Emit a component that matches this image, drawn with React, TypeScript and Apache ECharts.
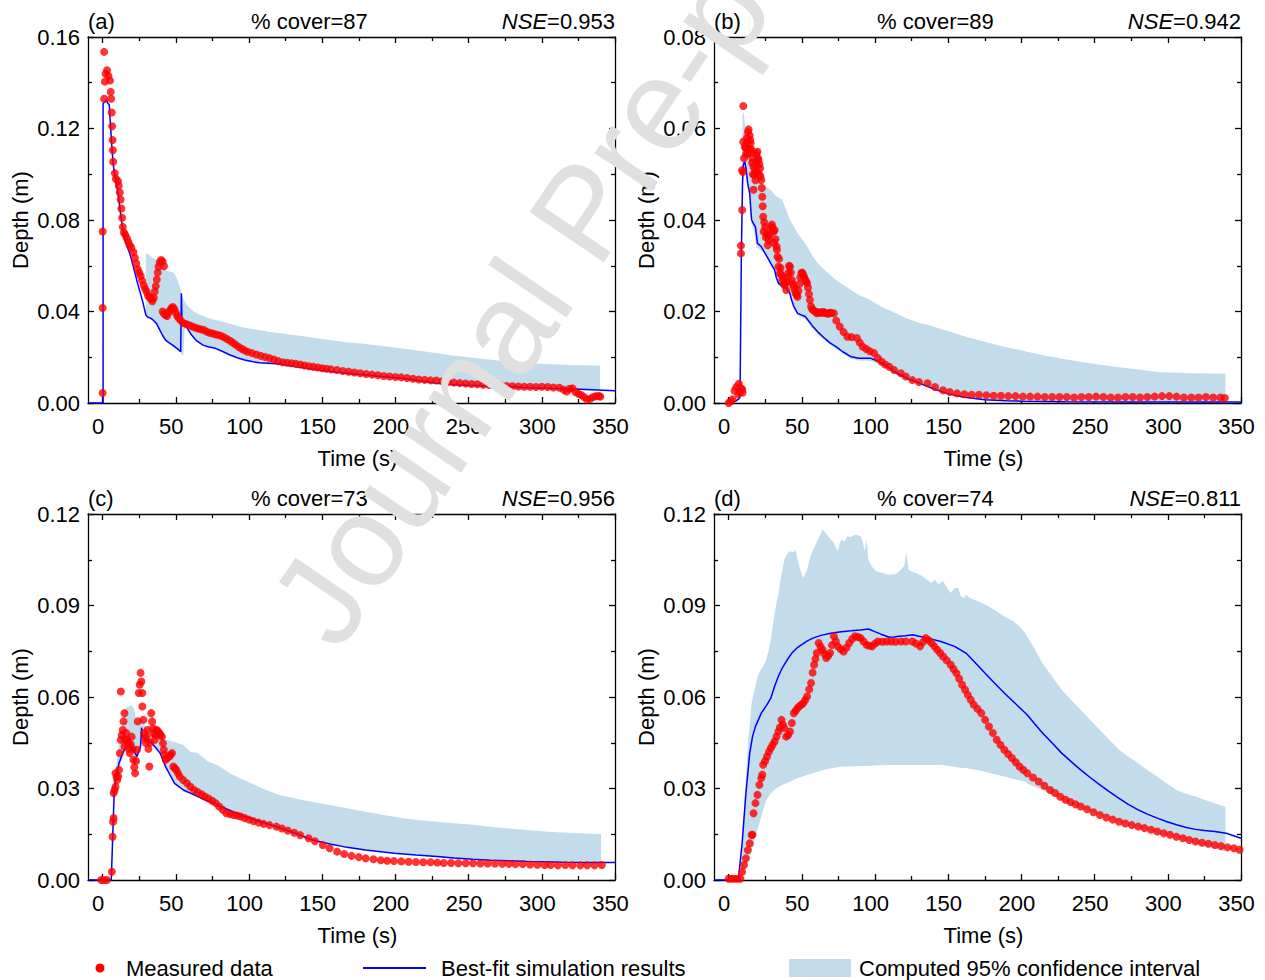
import React, { useEffect, useRef } from 'react';
import * as echarts from 'echarts';

const FONT = '"Liberation Sans", Arial, Helvetica, sans-serif';
const BAND_COLOR = '#c3dcec';
const LINE_COLOR = '#0000ff';
const DOT_COLOR = '#ff0000';

// ---------- Panel labels ----------
const panelLabels = ['(a)', '(b)', '(c)', '(d)'];
const coverTexts = ['% cover=87', '% cover=89', '% cover=73', '% cover=74'];
const nseValues = ['0.953', '0.942', '0.956', '0.811'];
const yMaxes = [0.16, 0.08, 0.12, 0.12];
const yIntervals = [0.04, 0.02, 0.03, 0.03];
const xTickValues = [0, 50, 100, 150, 200, 250, 300, 350];

// ---------- Panel (a) ----------
const measuredA: [number, number][] = [
  [0, 0.0044], [0, 0.0415], [0, 0.075], [1, 0.133], [1, 0.1535], [1.5, 0.1405], [2, 0.144], [3, 0.1455], [4, 0.143], [5, 0.141],
  [5.5, 0.136], [5.8, 0.133], [6.2, 0.127], [6.5, 0.121], [6.8, 0.115], [7, 0.1105], [7.2, 0.1055], [8.3, 0.1005], [9, 0.098], [10.5, 0.097],
  [11, 0.095], [11.7, 0.092], [12.3, 0.089], [12.8, 0.085], [13.3, 0.081], [13.8, 0.077], [14.5, 0.0745], [15.5, 0.0735], [16.5, 0.072], [17.5, 0.0705],
  [18.5, 0.069], [19.5, 0.068], [21, 0.066], [22, 0.0635], [23, 0.061], [24, 0.0585], [25, 0.057], [26, 0.0555], [27, 0.0535], [28, 0.0515],
  [29, 0.05], [30, 0.0487], [31, 0.047], [32, 0.0462], [33, 0.0455], [34, 0.0445], [35, 0.046], [35.6, 0.0487], [36.3, 0.051], [37, 0.054],
  [37.6, 0.057], [38.2, 0.0596], [39, 0.0615], [40, 0.0625], [41, 0.0618], [42, 0.0598], [41, 0.04], [42, 0.039], [43, 0.0385], [44, 0.038],
  [45, 0.0395], [46, 0.0405], [47, 0.0415], [48, 0.042], [49, 0.041], [50, 0.0395], [51, 0.038], [52, 0.037], [53.5, 0.036], [55, 0.035],
  [57, 0.0345], [59, 0.034], [61, 0.0335], [63, 0.033], [65, 0.0326], [67, 0.0322], [69, 0.032], [71, 0.0312], [73, 0.0307], [75, 0.0304],
  [77, 0.03], [79, 0.0297], [81, 0.0293], [83, 0.0287], [85, 0.028], [87, 0.0272], [89, 0.0263], [91, 0.0254], [93, 0.0245], [95, 0.0237],
  [97, 0.023], [99, 0.0224], [102, 0.0218], [105, 0.0212], [108, 0.0206], [111, 0.0201], [114, 0.0196], [117, 0.019], [120, 0.0183], [123, 0.0178],
  [126, 0.0176], [129, 0.0174], [132, 0.0171], [135, 0.0168], [138, 0.0164], [141, 0.0161], [144, 0.0158], [147, 0.0155], [150, 0.0152], [153, 0.015],
  [156, 0.0147], [160, 0.0144], [164, 0.014], [168, 0.0137], [172, 0.0133], [176, 0.013], [180, 0.0127], [184, 0.0124], [188, 0.0121], [192, 0.0118],
  [196, 0.0116], [200, 0.0114], [204, 0.0112], [208, 0.0109], [212, 0.0106], [216, 0.0103], [220, 0.0101], [224, 0.0099], [228, 0.0098], [232, 0.0095],
  [236, 0.0092], [240, 0.0089], [244, 0.0087], [248, 0.0085], [252, 0.0083], [256, 0.0082], [260, 0.008], [264, 0.0079], [268, 0.0078], [272, 0.0076],
  [276, 0.0074], [280, 0.0073], [284, 0.0072], [288, 0.0071], [292, 0.0071], [296, 0.007], [300, 0.0071], [304, 0.007], [308, 0.0068], [312, 0.0067],
  [315, 0.0058], [317, 0.005], [319, 0.0062], [321, 0.0064], [323, 0.0048], [325, 0.004], [327, 0.0035], [329, 0.0025], [331, 0.0015], [333, 0.0018],
  [335, 0.0026], [337, 0.003], [339, 0.003], [340, 0.0028],
];
const simA: [number, number][] = [
  [-10, 0], [0.3, 0], [0.3, 0.131], [1.5, 0.1315], [2.5, 0.1325], [3.5, 0.131], [4.5, 0.1305], [5, 0.125], [5.8, 0.117], [6.5, 0.11],
  [7.5, 0.103], [9, 0.097], [10.5, 0.092], [12, 0.084], [13.5, 0.077], [15, 0.072], [17, 0.068], [18.5, 0.0654], [20, 0.062], [22, 0.057],
  [24, 0.052], [26, 0.0475], [27.5, 0.044], [29.5, 0.0385], [31, 0.0375], [33, 0.037], [35, 0.036], [37, 0.0345], [39, 0.032], [41, 0.0295],
  [43, 0.0275], [45, 0.0265], [47.8, 0.0253], [50, 0.0242], [52, 0.0232], [53.3, 0.0224], [53.8, 0.048], [54.2, 0.036], [55.2, 0.0355], [57, 0.0335],
  [60, 0.0304], [63, 0.028], [65, 0.0268], [68.6, 0.0253], [72, 0.0246], [77, 0.0239], [82, 0.0225], [87, 0.021], [92, 0.0198], [97, 0.0188],
  [102, 0.0181], [107, 0.0176], [113, 0.0174], [119, 0.0172], [125, 0.0166], [131, 0.0159], [140, 0.0152], [150, 0.0142], [160, 0.0134], [170, 0.0128],
  [180, 0.0122], [190, 0.0116], [204, 0.0108], [215, 0.0098], [228, 0.0086], [240, 0.008], [253, 0.0076], [265, 0.0073], [277, 0.0071], [290, 0.0067],
  [302, 0.0064], [314, 0.0062], [326, 0.006], [338, 0.0057], [350, 0.0054],
];
// [time, lower, upper]
const bandA: [number, number, number][] = [
  [29.5, 0.0385, 0.0655], [31, 0.0375, 0.0652], [33, 0.0368, 0.064], [35, 0.0358, 0.0632], [37, 0.0343, 0.0625], [39, 0.0318, 0.061],
  [41, 0.0293, 0.0595], [43, 0.0273, 0.058], [45, 0.0262, 0.0576], [47, 0.0252, 0.0574], [49, 0.0243, 0.0567], [51, 0.0235, 0.054],
  [52.7, 0.0226, 0.0508], [53.3, 0.022, 0.049], [54, 0.021, 0.0475], [55.2, 0.021, 0.0457], [56, 0.0325, 0.0445], [57.6, 0.0332, 0.0428],
  [60, 0.0302, 0.0412], [62.5, 0.0282, 0.0399], [65, 0.0266, 0.039], [69.8, 0.0251, 0.0377], [75, 0.0241, 0.0366], [82, 0.0223, 0.0355],
  [88, 0.0207, 0.0344], [94.3, 0.0192, 0.0333], [100, 0.0183, 0.0326], [106.5, 0.0175, 0.0319], [115, 0.0172, 0.031], [123, 0.0167, 0.0304],
  [131, 0.0158, 0.0297], [143, 0.0147, 0.0286], [155, 0.0137, 0.0275], [167, 0.013, 0.0266], [180, 0.0121, 0.0258], [192, 0.0115, 0.0248],
  [204, 0.0107, 0.0239], [216, 0.0097, 0.0228], [228.6, 0.0085, 0.0217], [240, 0.0079, 0.0207], [253, 0.0075, 0.0198], [265, 0.0072, 0.0189],
  [277.5, 0.007, 0.0181], [290, 0.0066, 0.0175], [302, 0.0063, 0.017], [314, 0.0061, 0.0167], [326, 0.0059, 0.0165], [339.7, 0.0056, 0.0164],
];

// ---------- Panel (b) ----------
const measuredB: [number, number][] = [
  [0, 0], [1.5, 0.0004], [2.7, 0.0008], [4, 0.0027], [5.3, 0.0035], [6.6, 0.0019], [7, 0.0042], [7.9, 0.0024], [8.5, 0.0032], [9.2, 0.003],
  [9.5, 0.0023], [8.4, 0.0327], [8.4, 0.0344], [9.2, 0.0422], [9.2, 0.0509], [9.7, 0.0505], [10, 0.0571], [10, 0.0649], [10.5, 0.0535], [11, 0.056],
  [11.8, 0.0557], [12, 0.0545], [12.5, 0.058], [12.8, 0.057], [13, 0.0545], [13.2, 0.0592], [13.6, 0.0598], [14, 0.0555], [14.4, 0.0585], [14.8, 0.0575],
  [15, 0.0568], [15.3, 0.0555], [15.7, 0.0549], [16, 0.0525], [16.3, 0.0535], [16.6, 0.05], [17, 0.0517], [17, 0.0466], [17.6, 0.0498], [18, 0.051],
  [18.3, 0.0487], [18.8, 0.0545], [19, 0.0525], [19.4, 0.0505], [19.7, 0.0549], [20, 0.0535], [20.4, 0.0531], [20.8, 0.05], [21, 0.0522], [21.5, 0.0513],
  [21.8, 0.0495], [22.3, 0.0487], [22.7, 0.047], [23, 0.0451], [23.3, 0.043], [23.6, 0.0407], [24, 0.0375], [24.3, 0.0395], [24.9, 0.0385], [25.5, 0.0362],
  [26, 0.037], [26.7, 0.0345], [27, 0.0365], [27.5, 0.0356], [28.2, 0.037], [28.8, 0.0385], [29.5, 0.039], [30, 0.0383], [30.7, 0.0375], [31, 0.035],
  [31.4, 0.0378], [32, 0.0358], [32.7, 0.0342], [33, 0.0335], [33.4, 0.032], [34, 0.0298], [34.5, 0.0315], [35, 0.0284], [35.5, 0.0295], [36, 0.028],
  [36.6, 0.0269], [37.3, 0.0275], [38, 0.0258], [38.5, 0.026], [39.3, 0.0247], [39.8, 0.0265], [40.5, 0.0275], [40.8, 0.0285], [41.3, 0.03], [41.9, 0.0298],
  [42.5, 0.0285], [43.2, 0.0269], [43.8, 0.026], [44.5, 0.0255], [45, 0.0248], [45.8, 0.024], [46.5, 0.0236], [47.1, 0.0232], [47.7, 0.0245], [48.4, 0.026],
  [49, 0.0275], [49.7, 0.0284], [50.3, 0.0285], [51, 0.028], [51.6, 0.0275], [52.3, 0.027], [53, 0.0265], [53.6, 0.0262], [54.2, 0.0252], [54.9, 0.0238],
  [55.5, 0.0225], [56.3, 0.0211], [57, 0.0205], [58, 0.0203], [59, 0.02], [60.2, 0.0196], [61, 0.0198], [62.5, 0.0198], [63.5, 0.0197], [64.5, 0.0199],
  [65.4, 0.0198], [66.5, 0.0196], [68, 0.0195], [69, 0.0197], [70, 0.0197], [71.9, 0.0196], [73.5, 0.018], [75.9, 0.0167], [78.5, 0.0155], [81.1, 0.0145],
  [84, 0.0144], [87.6, 0.0142], [89.6, 0.0132], [91.6, 0.0123], [94, 0.0118], [96.5, 0.0113], [99.4, 0.0109], [102, 0.0098], [104.6, 0.009], [107, 0.0084],
  [109.8, 0.0079], [113, 0.0072], [117.6, 0.0065], [121, 0.0058], [125.5, 0.005], [130, 0.0046], [135.9, 0.0043], [141, 0.0035], [146.4, 0.0028], [151, 0.0024],
  [156, 0.0021], [161, 0.0019], [166, 0.0018], [171, 0.0018], [176, 0.0017], [181, 0.0016], [186, 0.0016], [191, 0.0015], [196, 0.0015], [201, 0.0014],
  [206, 0.0014], [211, 0.0014], [216, 0.0013], [221, 0.0013], [226, 0.0013], [231, 0.0013], [236, 0.0012], [241, 0.0013], [246, 0.0013], [251, 0.0014],
  [256, 0.0013], [261, 0.0012], [266, 0.0012], [271, 0.0013], [276, 0.0013], [281, 0.0012], [286, 0.0013], [291, 0.0014], [296, 0.0015], [301, 0.0015],
  [306, 0.0014], [311, 0.0012], [316, 0.0012], [321, 0.0012], [326, 0.0013], [331, 0.0012], [336, 0.0012], [339, 0.0011],
];
const simB: [number, number][] = [
  [0, 0], [3, 0.0002], [5.3, 0.0005], [7.4, 0.001], [7.9, 0.0054], [8.7, 0.0327], [9.5, 0.048], [10, 0.052], [11, 0.0528], [12, 0.051],
  [13, 0.048], [14.4, 0.0458], [15.2, 0.042], [15.7, 0.04], [17, 0.0392], [18.3, 0.0385], [19.7, 0.0349], [22.3, 0.0342], [24, 0.0332], [26.2, 0.032],
  [28.8, 0.0305], [31.4, 0.0291], [32.5, 0.0275], [34, 0.0262], [36, 0.0257], [39.3, 0.0251], [41.9, 0.024], [43, 0.0225], [44.5, 0.0211], [47.1, 0.0196],
  [50, 0.0192], [52.3, 0.0189], [55, 0.0178], [57.6, 0.0167], [61, 0.0155], [65.4, 0.0142], [69, 0.0132], [73.3, 0.0123], [78, 0.0112], [83.7, 0.0101],
  [89, 0.0098], [96.8, 0.0098], [100, 0.0094], [104.6, 0.0087], [110, 0.0076], [115, 0.0065], [122, 0.0054], [130.7, 0.0043], [140, 0.0031], [149, 0.0021],
  [160, 0.0013], [175, 0.0007], [190, 0.0005], [201, 0.0004], [230, 0.0003], [270, 0.0002], [310, 0.0002], [350, 0.0002],
];
const bandB: [number, number, number][] = [
  [8.5, 0.028, 0.04], [9.5, 0.047, 0.063], [10.2, 0.05, 0.0636], [11, 0.051, 0.0615], [11.8, 0.05, 0.059], [13, 0.047, 0.056],
  [14.4, 0.0448, 0.0531], [15.7, 0.039, 0.0515], [17, 0.038, 0.0502], [19, 0.034, 0.0492], [21, 0.0336, 0.0487], [24.9, 0.0326, 0.0473],
  [28.8, 0.03, 0.0466], [31.4, 0.0286, 0.0455], [34, 0.0257, 0.0449], [36.6, 0.0252, 0.0444], [39.3, 0.0246, 0.0422], [41.9, 0.0235, 0.04],
  [44.5, 0.0206, 0.0386], [47.1, 0.0191, 0.0371], [52.3, 0.0184, 0.0349], [57.6, 0.0162, 0.032], [61, 0.015, 0.0305], [65.4, 0.0137, 0.0291],
  [73.3, 0.0118, 0.0269], [83.7, 0.0096, 0.0247], [89, 0.0093, 0.0236], [96.8, 0.0092, 0.0225], [104.6, 0.0082, 0.021], [109.8, 0.0072, 0.0203],
  [115, 0.0061, 0.0195], [122, 0.0051, 0.0184], [130.7, 0.004, 0.0175], [136, 0.0034, 0.0171], [149, 0.0019, 0.0158], [162, 0.0011, 0.0145],
  [175, 0.0006, 0.0134], [188, 0.0004, 0.0123], [201, 0.0003, 0.0114], [214, 0.0002, 0.0105], [227, 0.0002, 0.0097], [240, 0.0002, 0.009],
  [253, 0.0002, 0.0084], [266.7, 0.0002, 0.0078], [280, 0.0002, 0.0073], [292.9, 0.0002, 0.0068], [306, 0.0002, 0.0066], [319, 0.0002, 0.0065],
  [339.4, 0.0002, 0.0064],
];

// ---------- Panel (c) ----------
const measuredC: [number, number][] = [
  [-1, 0], [1, 0], [3, 0], [6.3, 0.0027], [6.8, 0.0142], [7.1, 0.0191], [7.5, 0.0203], [7.5, 0.0285], [8.2, 0.0295], [8.8, 0.0306],
  [8.8, 0.035], [9.5, 0.0338], [10, 0.0328], [10.6, 0.034], [11.2, 0.0361], [11.7, 0.0416], [12.4, 0.046], [12.4, 0.0618], [13, 0.0475], [13.7, 0.0492],
  [14.3, 0.052], [14.9, 0.0547], [14.9, 0.0438], [15.5, 0.046], [16.1, 0.0482], [16.7, 0.046], [17.3, 0.0449], [18, 0.043], [18.5, 0.0416], [19.2, 0.0445],
  [19.8, 0.047], [20.4, 0.043], [21, 0.0394], [21.6, 0.037], [22.2, 0.035], [22.8, 0.039], [23.4, 0.0427], [24, 0.052], [24.7, 0.0613], [25.3, 0.064],
  [25.9, 0.0679], [26.4, 0.0651], [27.1, 0.0613], [27.1, 0.0569], [27.8, 0.0525], [28.3, 0.0482], [28.9, 0.0465], [29.5, 0.0449], [30.1, 0.047], [30.7, 0.0492],
  [31.3, 0.043], [31.9, 0.0372], [32.5, 0.045], [33.2, 0.0547], [33.8, 0.052], [34.4, 0.0498], [35, 0.048], [35.6, 0.046], [36.3, 0.0475], [36.9, 0.0492],
  [37.7, 0.0488], [38.6, 0.0482], [39.5, 0.0476], [40.5, 0.047], [41.2, 0.0448], [41.8, 0.0427], [42.4, 0.041], [43, 0.0394], [44.2, 0.04], [45.4, 0.0405],
  [46.4, 0.041], [47.4, 0.0416], [48.3, 0.0372], [49.3, 0.0366], [50.3, 0.0361], [51.5, 0.035], [52.7, 0.0339], [55, 0.0328], [57.6, 0.0317], [60, 0.0306],
  [62.5, 0.0295], [65, 0.0288], [67.5, 0.0281], [69.8, 0.0274], [72.3, 0.0267], [74.8, 0.026], [77.2, 0.0252], [79.6, 0.0241], [82, 0.023], [84.5, 0.0219],
  [87, 0.0216], [89.5, 0.0213], [92, 0.0211], [94.3, 0.0208], [97, 0.0203], [100, 0.0198], [103, 0.0193], [106.5, 0.0188], [110, 0.0184], [114, 0.018],
  [118.7, 0.0175], [122.5, 0.0169], [126.5, 0.0162], [130.9, 0.0155], [135, 0.0147], [140.7, 0.0137], [145, 0.0127], [150.4, 0.0115], [155, 0.0104], [160.2, 0.0093],
  [165, 0.0085], [170, 0.0079], [175, 0.0075], [179.7, 0.0071], [185, 0.0068], [190, 0.0065], [194.4, 0.0063], [199, 0.0062], [204, 0.0061], [209, 0.006],
  [214, 0.0059], [219, 0.0058], [224, 0.0058], [228.6, 0.0057], [233, 0.0056], [238, 0.0056], [243, 0.0055], [248, 0.0055], [253, 0.0055], [258, 0.0054],
  [263, 0.0054], [268, 0.0054], [273, 0.0053], [277.5, 0.0053], [282, 0.0052], [287, 0.0052], [292, 0.0051], [297, 0.005], [301.9, 0.0049], [306, 0.0049],
  [311, 0.0048], [316, 0.0049], [321, 0.0048], [326.3, 0.0048], [331, 0.0048], [336, 0.0048], [341, 0.0049],
];
const simC: [number, number][] = [
  [-10, 0], [5.9, 0], [6.8, 0.0131], [7.8, 0.0274], [8.8, 0.0328], [11.2, 0.0383], [13.7, 0.0416], [14.9, 0.0427], [18.5, 0.0449], [20.5, 0.043],
  [23.4, 0.0405], [25.9, 0.0438], [26.6, 0.05], [27.3, 0.047], [29.5, 0.046], [32, 0.0455], [33.5, 0.045], [35.6, 0.0438], [39.3, 0.0416], [43, 0.0372],
  [45.4, 0.035], [49.1, 0.0317], [55.2, 0.0295], [62.5, 0.0279], [69.8, 0.0263], [75, 0.0253], [80, 0.0242], [90, 0.0222], [100, 0.0203], [110, 0.0188],
  [120, 0.0172], [130, 0.0156], [143.1, 0.0131], [155.3, 0.0118], [167, 0.0107], [179.7, 0.0098], [190, 0.0093], [199.3, 0.0088], [214, 0.0082], [228.6, 0.0077],
  [240, 0.0072], [253, 0.0068], [265, 0.0065], [277.5, 0.0063], [290, 0.0061], [301.9, 0.006], [314, 0.0058], [326.3, 0.0057], [338, 0.0057], [350, 0.0057],
];
const bandC: [number, number, number][] = [
  [6.5, 0, 0.005], [7.5, 0.0255, 0.032], [8.8, 0.0318, 0.036], [11, 0.037, 0.044], [13.7, 0.04, 0.052], [16, 0.0425, 0.0565],
  [19.8, 0.044, 0.0574], [21.5, 0.04, 0.056], [23.4, 0.0395, 0.0514], [25.9, 0.043, 0.053], [27.3, 0.046, 0.052], [29.5, 0.0452, 0.0505],
  [33.5, 0.0442, 0.049], [36, 0.043, 0.048], [39.3, 0.041, 0.0472], [43, 0.0365, 0.046], [47.8, 0.0322, 0.0455], [55.2, 0.0289, 0.0443],
  [60.1, 0.0282, 0.042], [64.9, 0.0273, 0.0416], [72.2, 0.026, 0.0388], [79.6, 0.0245, 0.0374], [86.9, 0.0228, 0.035], [94, 0.0214, 0.0333],
  [101.6, 0.02, 0.0317], [110, 0.0185, 0.0298], [118.7, 0.017, 0.0282], [127, 0.016, 0.0272], [135.8, 0.0143, 0.0263], [145, 0.0127, 0.0254],
  [155.3, 0.0116, 0.0246], [167, 0.0105, 0.0235], [179.7, 0.0096, 0.0224], [192, 0.0091, 0.0213], [204.2, 0.0086, 0.0203], [216, 0.008, 0.0196],
  [228.6, 0.0075, 0.0191], [240, 0.007, 0.0186], [253, 0.0066, 0.0181], [265, 0.0063, 0.0175], [277.5, 0.0061, 0.0169], [290, 0.0059, 0.0164],
  [301.9, 0.0058, 0.0159], [314, 0.0056, 0.0156], [326.3, 0.0055, 0.0153], [340.5, 0.0055, 0.0151],
];

// ---------- Panel (d) ----------
const measuredD: [number, number][] = [
  [0, 0.0004], [2, 0.0004], [4, 0.0004], [6, 0.0004], [8, 0.0004], [9.2, 0.0027], [10.5, 0.0049], [11.8, 0.0071], [13.1, 0.0098], [14.4, 0.012],
  [15.7, 0.0148], [16.3, 0.0148], [17, 0.0219], [18.3, 0.0252], [19.7, 0.0279], [21, 0.0312], [22.3, 0.0334], [23, 0.0345], [23.6, 0.0378], [24.9, 0.039],
  [26.2, 0.0405], [27.5, 0.042], [28.8, 0.0432], [30, 0.0443], [31.4, 0.0454], [32.7, 0.047], [34, 0.0487], [35, 0.05], [36.1, 0.0525], [37, 0.051],
  [38, 0.0498], [39.3, 0.047], [40.6, 0.0475], [41.9, 0.0487], [43.2, 0.0515], [44.5, 0.0547], [45.8, 0.0555], [47.1, 0.0564], [48.4, 0.057], [49.7, 0.0575],
  [51, 0.058], [52.3, 0.059], [53.6, 0.0602], [55, 0.0625], [56.3, 0.0646], [57.4, 0.068], [58.4, 0.0706], [59.3, 0.0725], [60.2, 0.0744], [61.5, 0.0777],
  [62.8, 0.0765], [64.1, 0.0755], [65.4, 0.0742], [66.7, 0.0728], [68, 0.0735], [69.3, 0.0744], [70.6, 0.077], [71.9, 0.0799], [73.2, 0.0783], [74.6, 0.0766],
  [76.5, 0.0757], [78.5, 0.0749], [80.5, 0.0762], [82.4, 0.0777], [84.4, 0.079], [86.3, 0.0799], [88.2, 0.0797], [90.2, 0.0793], [92.2, 0.0782], [94.2, 0.0771],
  [96.1, 0.0768], [98.1, 0.0766], [100, 0.0775], [102, 0.0782], [105, 0.0781], [108, 0.0782], [111, 0.0782], [114, 0.0781], [117.7, 0.0782], [121, 0.0782],
  [125.5, 0.0782], [128, 0.0775], [130.8, 0.0766], [132.7, 0.078], [134.7, 0.0793], [136.6, 0.0786], [138.6, 0.0777], [140.5, 0.0766], [142.5, 0.0755], [144.5, 0.0744],
  [146.5, 0.0733], [149, 0.072], [151.7, 0.0706], [153.6, 0.0692], [155.6, 0.0678], [157.5, 0.066], [159.5, 0.064], [161.5, 0.0624], [163.4, 0.0607], [165.4, 0.0591],
  [167.4, 0.0575], [170, 0.0561], [172.6, 0.0547], [175.2, 0.0525], [177.8, 0.0503], [180.5, 0.0482], [183.1, 0.046], [185.7, 0.0443], [188.3, 0.0427], [190.9, 0.0413],
  [193.5, 0.04], [196.1, 0.0386], [198.7, 0.0372], [201.3, 0.0361], [204, 0.035], [207.9, 0.0336], [211.8, 0.0323], [215.7, 0.0309], [219.6, 0.0295], [223, 0.0285],
  [226.5, 0.0273], [230.1, 0.0263], [233.5, 0.0256], [237, 0.0248], [240.5, 0.0241], [244.8, 0.0232], [249.2, 0.0222], [253.6, 0.0213], [258, 0.0205], [262.4, 0.0198],
  [266.7, 0.0191], [271, 0.0185], [275.4, 0.018], [279.8, 0.0175], [284.1, 0.017], [288.5, 0.0165], [292.8, 0.0159], [297.2, 0.0153], [301.5, 0.0148], [305.9, 0.0142],
  [310.3, 0.0137], [314.6, 0.0131], [319, 0.0126], [323.4, 0.0122], [327.7, 0.0119], [332.1, 0.0115], [336.4, 0.0111], [340.8, 0.0107], [345.1, 0.0104], [349, 0.0099],
];
const simD: [number, number][] = [
  [-10, 0], [6.6, 0], [9.2, 0.012], [11.8, 0.0284], [14.4, 0.0416], [16.3, 0.047], [18.3, 0.0503], [22.3, 0.0547], [26.2, 0.0575], [28.8, 0.0596],
  [31.4, 0.0635], [34, 0.0668], [36.6, 0.0695], [40, 0.0722], [43.2, 0.0744], [46.5, 0.076], [49.7, 0.0771], [53.5, 0.0783], [57.6, 0.0793], [63, 0.0802],
  [70.6, 0.081], [77, 0.0814], [83.7, 0.0817], [90, 0.082], [95.5, 0.0823], [99.4, 0.0815], [104, 0.0806], [109.8, 0.0796], [113, 0.0797], [116.4, 0.0799],
  [121, 0.0801], [125.5, 0.0804], [130, 0.0799], [136, 0.0793], [145, 0.0782], [154.3, 0.0766], [162.1, 0.0744], [168, 0.0715], [175.2, 0.0678], [181.7, 0.0645],
  [188.3, 0.0613], [196, 0.0578], [203.9, 0.0542], [209, 0.0512], [214.4, 0.0482], [221, 0.0449], [227.5, 0.0416], [234, 0.0388], [240.5, 0.0361], [247, 0.0336],
  [253.6, 0.0312], [260, 0.029], [266.7, 0.0268], [273, 0.0248], [279.8, 0.023], [286, 0.0216], [292.8, 0.0203], [299, 0.0192], [305.9, 0.0181], [312, 0.0173],
  [319, 0.0166], [325, 0.0162], [332.1, 0.0159], [339.9, 0.0153], [345, 0.0145], [350, 0.0137],
];
const bandD: [number, number, number][] = [
  [7.9, 0, 0], [9.5, 0.002, 0.015], [11.8, 0.0045, 0.0339], [13.1, 0.0055, 0.044], [15.7, 0.0095, 0.058], [18.3, 0.0142, 0.0635],
  [19.7, 0.0165, 0.0667], [21.5, 0.0195, 0.0685], [23.6, 0.023, 0.07], [25.5, 0.026, 0.072], [27.5, 0.0275, 0.0755], [28.8, 0.0284, 0.079],
  [30.1, 0.029, 0.0832], [32, 0.0298, 0.089], [34, 0.0305, 0.0941], [36, 0.031, 0.1], [38, 0.0315, 0.105], [40, 0.0318, 0.107],
  [41.9, 0.0322, 0.1078], [44, 0.0327, 0.1075], [45.8, 0.0331, 0.1083], [47.1, 0.0334, 0.105], [49, 0.0337, 0.1015], [51, 0.034, 0.099],
  [52.5, 0.0343, 0.1005], [53.6, 0.0345, 0.1017], [55.5, 0.0347, 0.1055], [57.6, 0.035, 0.1083], [59.5, 0.0353, 0.11], [61.5, 0.0356, 0.1122],
  [63, 0.0358, 0.1135], [64.1, 0.036, 0.1149], [66, 0.0362, 0.114], [68, 0.0364, 0.1127], [70, 0.0366, 0.1115], [71.9, 0.0368, 0.1105],
  [73.2, 0.0369, 0.109], [74.6, 0.037, 0.1078], [75.9, 0.0371, 0.1105], [77.2, 0.0371, 0.1116], [79, 0.0372, 0.111], [81.1, 0.0372, 0.1127],
  [83.5, 0.0373, 0.1125], [86.3, 0.0373, 0.1132], [88.3, 0.0374, 0.113], [90.2, 0.0374, 0.1127], [91.5, 0.0374, 0.111], [92.9, 0.0374, 0.1078],
  [94.2, 0.0374, 0.1116], [95.5, 0.0375, 0.105], [97.5, 0.0375, 0.103], [100.7, 0.0376, 0.1012], [104.6, 0.0376, 0.1007], [109.8, 0.0377, 0.1001],
  [114, 0.0377, 0.1003], [117.7, 0.0377, 0.1017], [120, 0.0377, 0.103], [121.2, 0.0377, 0.1072], [122, 0.0377, 0.105], [122.9, 0.0377, 0.1017],
  [126, 0.0377, 0.101], [130.8, 0.0377, 0.1001], [134, 0.0377, 0.099], [138.6, 0.0377, 0.0974], [141, 0.0377, 0.0985], [143, 0.0377, 0.097],
  [146.5, 0.0377, 0.098], [149, 0.0375, 0.096], [151.7, 0.0373, 0.0941], [154.3, 0.0371, 0.0957], [156.9, 0.0369, 0.0957], [158.5, 0.0368, 0.093],
  [160.8, 0.0367, 0.0925], [162.5, 0.0367, 0.0935], [164.8, 0.0365, 0.0925], [170, 0.036, 0.0915], [175.2, 0.0355, 0.0903], [181.7, 0.0347, 0.0885],
  [188.3, 0.0339, 0.0864], [194, 0.0332, 0.085], [198.7, 0.0327, 0.0832], [202.5, 0.0322, 0.081], [206.6, 0.031, 0.0777], [210.5, 0.0303, 0.0745],
  [214.4, 0.0295, 0.0711], [221, 0.0279, 0.0667], [227.5, 0.0263, 0.0624], [234, 0.0249, 0.059], [240.5, 0.0235, 0.0558], [247, 0.0224, 0.0525],
  [253.6, 0.0213, 0.0492], [260, 0.0202, 0.046], [266.7, 0.0191, 0.0427], [273, 0.018, 0.0405], [279.8, 0.017, 0.0383], [286, 0.0161, 0.0361],
  [292.8, 0.0153, 0.0339], [299, 0.0145, 0.0317], [305.9, 0.0137, 0.0295], [312, 0.0128, 0.0284], [319, 0.012, 0.0274], [325, 0.0112, 0.0263],
  [332.1, 0.0104, 0.0252], [339.4, 0.0093, 0.0239],
];

const measuredAll = [measuredA, measuredB, measuredC, measuredD];
const simAll = [simA, simB, simC, simD];
const bandAll = [bandA, bandB, bandC, bandD];

// ---------- Layout ----------
const PLOT_W = 527;
const PLOT_H = 366;
const gridPos = [
  { left: 88, top: 37, titleY: 21 },
  { left: 714, top: 37, titleY: 21 },
  { left: 88, top: 514, titleY: 498 },
  { left: 714, top: 514, titleY: 498 },
];

function buildOption() {
  const axisLineStyle = { color: '#000', width: 1.3 };
  const grid = gridPos.map((g) => ({ left: g.left, top: g.top, width: PLOT_W, height: PLOT_H, containLabel: false }));

  const xCommon = (i: number) => ({
    type: 'value',
    gridIndex: i,
    min: -10,
    max: 350,
    splitNumber: 7,
    axisLine: { show: true, onZero: false, lineStyle: axisLineStyle },
    axisTick: { show: true, inside: true, length: 6, lineStyle: axisLineStyle, customValues: xTickValues },
    minorTick: { show: true, splitNumber: 2, length: 4, lineStyle: axisLineStyle },
    splitLine: { show: false },
    minorSplitLine: { show: false },
  });
  const xAxis: any[] = [];
  for (let i = 0; i < 4; i++) {
    xAxis.push({
      ...xCommon(i),
      position: 'bottom',
      axisLabel: {
        show: true, color: '#000', fontSize: 22, fontFamily: FONT, margin: 12, padding: [0, 9, 0, 0],
        customValues: xTickValues,
        formatter: (v: number) => String(v),
      },
      name: 'Time (s)',
      nameLocation: 'middle',
      nameGap: 44,
      nameTextStyle: { color: '#000', fontSize: 22, fontFamily: FONT, padding: [0, 0, 0, 12] },
    });
  }
  for (let i = 0; i < 4; i++) {
    xAxis.push({ ...xCommon(i), position: 'top', axisLabel: { show: false } });
  }

  const yCommon = (i: number) => ({
    type: 'value',
    gridIndex: i,
    min: 0,
    max: yMaxes[i],
    interval: yIntervals[i],
    axisLine: { show: true, onZero: false, lineStyle: axisLineStyle },
    axisTick: { show: true, inside: true, length: 6, lineStyle: axisLineStyle },
    minorTick: { show: true, splitNumber: 2, length: 4, lineStyle: axisLineStyle },
    splitLine: { show: false },
    minorSplitLine: { show: false },
  });
  const yAxis: any[] = [];
  for (let i = 0; i < 4; i++) {
    yAxis.push({
      ...yCommon(i),
      position: 'left',
      axisLabel: {
        show: true, color: '#000', fontSize: 22, fontFamily: FONT, margin: 8,
        formatter: (v: number) => v.toFixed(2),
      },
      name: 'Depth (m)',
      nameLocation: 'middle',
      nameGap: 57,
      nameRotate: 90,
      nameTextStyle: { color: '#000', fontSize: 22, fontFamily: FONT },
    });
  }
  for (let i = 0; i < 4; i++) {
    yAxis.push({ ...yCommon(i), position: 'right', axisLabel: { show: false } });
  }

  const series: any[] = [];
  for (let i = 0; i < 4; i++) {
    const band = bandAll[i];
    series.push({
      type: 'custom',
      name: 'Computed 95% confidence interval',
      xAxisIndex: i,
      yAxisIndex: i,
      silent: true,
      z: 1,
      data: band.map((b) => [b[0], b[1], b[2]]),
      encode: { x: 0, y: [1, 2] },
      renderItem: (params: any, api: any) => {
        if (params.dataIndex !== 0) return null;
        const upper = band.map((b) => api.coord([b[0], b[2]]));
        const lower = band.slice().reverse().map((b) => api.coord([b[0], b[1]]));
        return {
          type: 'polygon',
          shape: { points: upper.concat(lower) },
          style: { fill: BAND_COLOR, stroke: 'none' },
        };
      },
    });
    series.push({
      type: 'line',
      name: 'Best-fit simulation results',
      xAxisIndex: i,
      yAxisIndex: i,
      data: simAll[i],
      symbol: 'none',
      showSymbol: false,
      lineStyle: { color: LINE_COLOR, width: 1.5 },
      z: 3,
      silent: true,
    });
    series.push({
      type: 'scatter',
      name: 'Measured data',
      xAxisIndex: i,
      yAxisIndex: i,
      data: measuredAll[i],
      symbol: 'circle',
      symbolSize: 8,
      itemStyle: { color: DOT_COLOR },
      z: 4,
      silent: true,
    });
  }

  const txt = (x: number, y: number, text: string, align = 'left', extra: any = {}) => ({
    type: 'text',
    x,
    y,
    z: 50,
    silent: true,
    style: { text, font: `22px ${FONT}`, fill: '#000', align, verticalAlign: 'middle', ...extra },
  });

  const graphic: any[] = [];
  for (let i = 0; i < 4; i++) {
    const g = gridPos[i];
    graphic.push(txt(g.left, g.titleY, panelLabels[i]));
    graphic.push(txt(g.left + 163, g.titleY, coverTexts[i]));
    graphic.push(
      txt(g.left + PLOT_W, g.titleY, `{i|NSE}=${nseValues[i]}`, 'right', {
        rich: { i: { fontStyle: 'italic', fontSize: 22, fontFamily: FONT, fill: '#000' } },
      })
    );
  }
  // legend
  graphic.push({ type: 'circle', z: 50, shape: { cx: 100, cy: 968, r: 4.5 }, style: { fill: DOT_COLOR } });
  graphic.push(txt(126, 968, 'Measured data'));
  graphic.push({ type: 'line', z: 50, shape: { x1: 363, y1: 968, x2: 426, y2: 968 }, style: { stroke: LINE_COLOR, lineWidth: 2 } });
  graphic.push(txt(441, 968, 'Best-fit simulation results'));
  graphic.push({ type: 'rect', z: 50, shape: { x: 789, y: 959, width: 62, height: 18 }, style: { fill: BAND_COLOR } });
  graphic.push(txt(859, 968, 'Computed 95% confidence interval'));
  // watermark
  graphic.push({
    type: 'text',
    x: 355,
    y: 665,
    rotation: 0.975,
    z: 100,
    silent: true,
    style: {
      text: 'Journal Pre-proof',
      font: `130px ${FONT}`,
      fill: '#e0e0e0',
      align: 'left',
      verticalAlign: 'bottom',
    },
  });

  return {
    animation: false,
    backgroundColor: '#ffffff',
    textStyle: { fontFamily: FONT },
    grid,
    xAxis,
    yAxis,
    series,
    graphic,
  };
}

export default function App() {
  const ref = useRef<HTMLDivElement>(null);
  useEffect(() => {
    document.body.style.margin = '0';
    if (!ref.current) return;
    const chart = echarts.init(ref.current, null, { renderer: 'svg' });
    chart.setOption(buildOption() as any);
    return () => chart.dispose();
  }, []);
  return <div ref={ref} style={{ width: 1265, height: 980 }} />;
}
